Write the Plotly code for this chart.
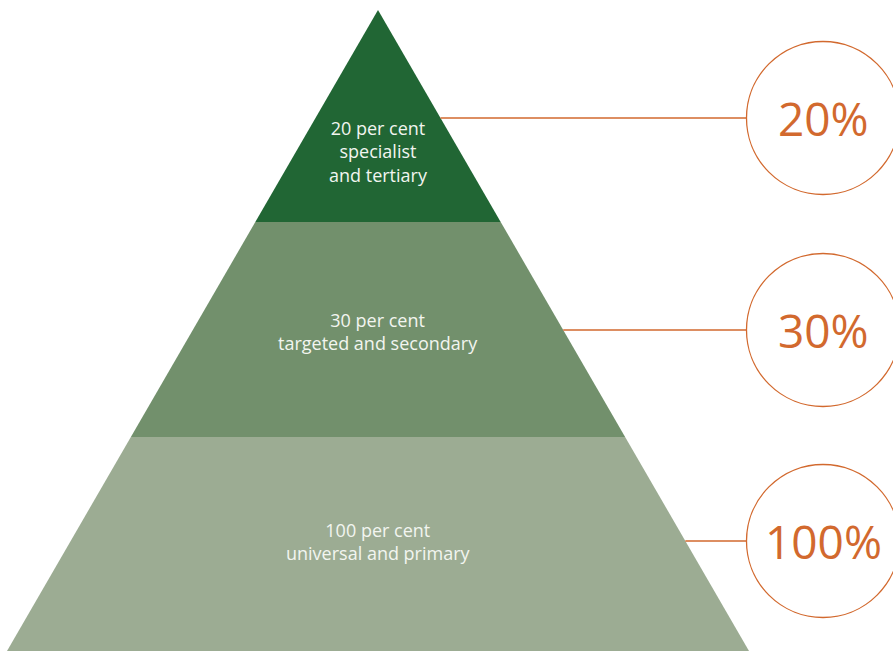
import plotly.graph_objects as go

# Data
tier_labels = ["20 per cent<br>specialist<br>and tertiary",
               "30 per cent<br>targeted and secondary",
               "100 per cent<br>universal and primary"]
tier_percent = ["20%", "30%", "100%"]
tier_colors = ["#216634", "#72906c", "#9cac93"]
orange = "#d2692e"

W, H = 893, 651
apex_x, apex_y = 378, 10
base_y = 651
base_half = 371
circle_cx, circle_r = 823, 76.5
label_y = [151, 331, 541]
circle_cy = [118, 330, 541]
bounds = [apex_y, 222, 437, base_y]

def half_width(y):
    return base_half * (y - apex_y) / (base_y - apex_y)

fig = go.Figure()
for i in range(3):
    y0, y1 = bounds[i], bounds[i + 1]
    w0, w1 = half_width(y0), half_width(y1)
    xs = [apex_x - w0, apex_x + w0, apex_x + w1, apex_x - w1, apex_x - w0]
    ys = [y0, y0, y1, y1, y0]
    fig.add_trace(go.Scatter(x=xs, y=ys, fill="toself", mode="none",
                             fillcolor=tier_colors[i], hoverinfo="skip",
                             showlegend=False))
    cy = circle_cy[i]
    fig.add_trace(go.Scatter(x=[apex_x + half_width(cy), circle_cx - circle_r],
                             y=[cy, cy], mode="lines",
                             line=dict(color=orange, width=1.3),
                             hoverinfo="skip", showlegend=False))
    fig.add_shape(type="circle", xref="x", yref="y",
                  x0=circle_cx - circle_r, x1=circle_cx + circle_r,
                  y0=cy - circle_r, y1=cy + circle_r,
                  line=dict(color=orange, width=1.3), fillcolor="white")
    fig.add_annotation(x=circle_cx, y=cy, text=tier_percent[i], showarrow=False,
                       font=dict(family="Open Sans", size=46, color=orange))
    fig.add_annotation(x=apex_x, y=label_y[i], text=tier_labels[i], showarrow=False,
                       font=dict(family="Open Sans", size=18, color="#f2f5f0"))

fig.update_layout(width=W, height=H, margin=dict(l=0, r=0, t=0, b=0),
                  paper_bgcolor="white", plot_bgcolor="white",
                  xaxis=dict(range=[0, W], visible=False, fixedrange=True),
                  yaxis=dict(range=[H, 0], visible=False, fixedrange=True))
fig.write_html("out.html", config={"displayModeBar": False},
               post_script="document.body.style.margin='0';document.body.style.overflow='hidden';")
